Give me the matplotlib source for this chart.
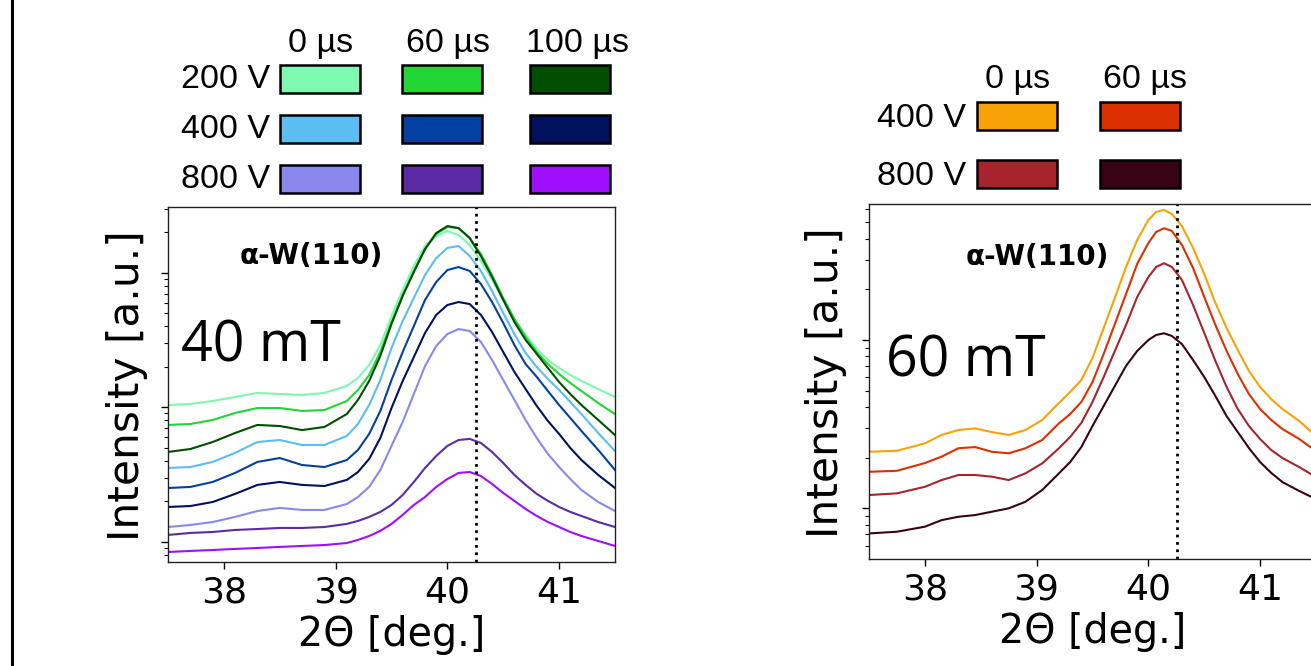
import numpy as np
import matplotlib
matplotlib.use('Agg')
import matplotlib.pyplot as plt
from matplotlib.patches import Rectangle
from matplotlib.lines import Line2D
from matplotlib.ticker import NullFormatter

# ---- data: 2-theta (deg) and log10 intensity ----
two_theta_40 = [37.5, 37.7, 37.9, 38.1, 38.3, 38.5, 38.7, 38.9, 39.1, 39.2, 39.3, 39.4, 39.5, 39.6,
                39.7, 39.8, 39.9, 40.0, 40.1, 40.2, 40.3, 40.4, 40.5, 40.6, 40.7, 40.8, 40.9, 41.0,
                41.1, 41.2, 41.35, 41.5]

v200_0 = [3.016, 3.024, 3.046, 3.076, 3.106, 3.098, 3.091, 3.106, 3.158, 3.217, 3.314, 3.462, 3.678,
          3.871, 4.050, 4.199, 4.273, 4.310, 4.280, 4.206, 4.087, 3.946, 3.797, 3.656, 3.537, 3.433,
          3.351, 3.291, 3.239, 3.195, 3.135, 3.076]
v200_60 = [2.868, 2.875, 2.905, 2.957, 2.994, 2.994, 2.972, 2.979, 3.046, 3.128, 3.239, 3.410, 3.633,
           3.834, 4.013, 4.176, 4.288, 4.340, 4.332, 4.258, 4.139, 3.983, 3.812, 3.656, 3.522, 3.410,
           3.321, 3.247, 3.180, 3.120, 3.031, 2.949]
v200_100 = [2.667, 2.689, 2.741, 2.808, 2.868, 2.860, 2.830, 2.853, 2.949, 3.054, 3.195, 3.381, 3.619,
            3.827, 4.005, 4.176, 4.295, 4.347, 4.332, 4.258, 4.124, 3.968, 3.797, 3.633, 3.500, 3.396,
            3.291, 3.187, 3.098, 3.016, 2.905, 2.793]
v400_0 = [2.548, 2.555, 2.593, 2.660, 2.741, 2.756, 2.719, 2.719, 2.786, 2.875, 3.016, 3.202, 3.440,
          3.641, 3.812, 3.983, 4.109, 4.184, 4.199, 4.124, 4.013, 3.864, 3.700, 3.544, 3.403, 3.299,
          3.210, 3.128, 3.039, 2.949, 2.808, 2.674]
v400_60 = [2.399, 2.407, 2.444, 2.511, 2.593, 2.622, 2.570, 2.555, 2.607, 2.682, 2.801, 2.972, 3.202,
           3.410, 3.604, 3.797, 3.931, 4.020, 4.042, 4.013, 3.916, 3.782, 3.626, 3.462, 3.321, 3.225,
           3.120, 3.016, 2.920, 2.823, 2.682, 2.533]
v400_100 = [2.258, 2.265, 2.295, 2.355, 2.422, 2.444, 2.422, 2.414, 2.459, 2.518, 2.615, 2.771, 2.994,
            3.195, 3.373, 3.552, 3.686, 3.760, 3.782, 3.767, 3.686, 3.559, 3.410, 3.262, 3.135, 3.009,
            2.897, 2.801, 2.697, 2.607, 2.496, 2.399]
v800_0 = [2.109, 2.124, 2.146, 2.184, 2.228, 2.251, 2.236, 2.236, 2.280, 2.332, 2.407, 2.533, 2.712,
          2.890, 3.098, 3.306, 3.455, 3.544, 3.581, 3.567, 3.485, 3.351, 3.202, 3.054, 2.905, 2.771,
          2.652, 2.555, 2.466, 2.384, 2.295, 2.228]
v800_60 = [2.050, 2.065, 2.072, 2.087, 2.094, 2.102, 2.102, 2.109, 2.132, 2.154, 2.184, 2.221, 2.273,
           2.347, 2.444, 2.548, 2.637, 2.712, 2.756, 2.764, 2.734, 2.667, 2.585, 2.496, 2.422, 2.355,
           2.303, 2.258, 2.221, 2.191, 2.146, 2.109]
v800_100 = [1.923, 1.931, 1.938, 1.946, 1.953, 1.961, 1.968, 1.975, 1.990, 2.013, 2.042, 2.080, 2.132,
            2.199, 2.273, 2.332, 2.407, 2.466, 2.511, 2.518, 2.488, 2.429, 2.362, 2.303, 2.243, 2.191,
            2.146, 2.109, 2.072, 2.042, 2.005, 1.968]

two_theta_60 = [37.5, 37.75, 38.0, 38.15, 38.3, 38.45, 38.6, 38.75, 38.9, 39.05, 39.2, 39.3, 39.4,
                39.5, 39.6, 39.7, 39.8, 39.9, 40.0, 40.07, 40.14, 40.21, 40.3, 40.4, 40.5, 40.6, 40.7,
                40.8, 40.9, 41.0, 41.1, 41.2, 41.35, 41.5]

m400_0 = [3.336, 3.342, 3.386, 3.436, 3.465, 3.475, 3.453, 3.436, 3.465, 3.525, 3.626, 3.691, 3.762,
          3.893, 4.071, 4.250, 4.434, 4.594, 4.713, 4.761, 4.773, 4.749, 4.677, 4.547, 4.392, 4.220,
          4.071, 3.941, 3.816, 3.721, 3.649, 3.590, 3.519, 3.430]
m400_60 = [3.217, 3.223, 3.269, 3.307, 3.357, 3.364, 3.336, 3.327, 3.357, 3.406, 3.505, 3.560, 3.632,
           3.750, 3.917, 4.095, 4.273, 4.452, 4.576, 4.642, 4.664, 4.648, 4.565, 4.428, 4.256, 4.089,
           3.935, 3.798, 3.679, 3.590, 3.525, 3.471, 3.412, 3.340]
m800_0 = [3.079, 3.089, 3.128, 3.168, 3.198, 3.198, 3.188, 3.168, 3.208, 3.267, 3.357, 3.424, 3.507,
          3.632, 3.780, 3.935, 4.089, 4.256, 4.374, 4.434, 4.456, 4.434, 4.357, 4.208, 4.042, 3.875,
          3.721, 3.590, 3.489, 3.412, 3.346, 3.299, 3.245, 3.186]
m800_60 = [2.851, 2.861, 2.891, 2.930, 2.950, 2.960, 2.980, 3.000, 3.039, 3.109, 3.208, 3.275, 3.364,
           3.489, 3.608, 3.727, 3.846, 3.935, 4.000, 4.030, 4.040, 4.024, 3.976, 3.881, 3.780, 3.667,
           3.548, 3.453, 3.358, 3.275, 3.210, 3.156, 3.103, 3.055]

w110_ref = 40.26

voltages_40 = ['200 V', '400 V', '800 V']
pulses_40 = ['0 µs', '60 µs', '100 µs']
colors_40 = [['#7ff8b0', '#22d633', '#004f00'],
             ['#5bbdf2', '#0340a0', '#00125e'],
             ['#8888ee', '#5b2ba6', '#a00eff']]
series_40 = [[v200_0, v200_60, v200_100],
             [v400_0, v400_60, v400_100],
             [v800_0, v800_60, v800_100]]

voltages_60 = ['400 V', '800 V']
pulses_60 = ['0 µs', '60 µs']
colors_60 = [['#f8a305', '#dd3000'],
             ['#a8242c', '#380415']]
series_60 = [[m400_0, m400_60],
             [m800_0, m800_60]]

W, H = 1311, 666


def fx(x):
    return x / W


def fy(y):
    return 1 - y / H


fig = plt.figure(figsize=(W / 100, H / 100), dpi=100)


def style_axes(ax, ylim):
    ax.set_yscale('log')
    ax.set_xlim(37.5, 41.5)
    ax.set_ylim(*ylim)
    ax.set_xticks([38, 39, 40, 41])
    ax.tick_params(axis='x', labelsize=26, length=5, width=1, pad=5)
    ax.tick_params(axis='y', which='both', labelleft=False)
    ax.tick_params(axis='y', which='major', length=5, width=1)
    ax.tick_params(axis='y', which='minor', length=3, width=0.8)
    ax.yaxis.set_minor_formatter(NullFormatter())
    for s in ax.spines.values():
        s.set_linewidth(1)
        s.set_color('#222222')
    ax.axvline(w110_ref, color='k', ls=':', lw=2)
    ax.set_xlabel('2Θ [deg.]', fontsize=28.5, labelpad=4)


# left panel, 40 mT
ax1 = fig.add_axes([fx(168), fy(561.7), 447 / W, 355 / H])
for r in range(3):
    for c in range(3):
        ax1.plot(two_theta_40, 10 ** np.array(series_40[r][c]), color=colors_40[r][c], lw=1.5)
style_axes(ax1, (10 ** 1.851, 10 ** 4.491))
ax1.text(0.32, 0.861, 'α-W(110)', transform=ax1.transAxes, fontsize=20, fontweight='bold',
         ha='center', va='center')
ax1.text(0.207, 0.563, '40 mT', transform=ax1.transAxes, fontsize=40, family='Open Sans',
         ha='center', va='baseline')
fig.text(fx(127), fy(386), 'Intensity [a.u.]', rotation=90, fontsize=30.5, ha='center', va='center')

# right panel, 60 mT (runs past the right edge, as in the source figure)
ax2 = fig.add_axes([fx(869), fy(559), 447 / W, 355 / H])
for r in range(2):
    for c in range(2):
        ax2.plot(two_theta_60, 10 ** np.array(series_60[r][c]), color=colors_60[r][c], lw=1.5)
style_axes(ax2, (10 ** 2.699, 10 ** 4.808))
ax2.text(0.376, 0.851, 'α-W(110)', transform=ax2.transAxes, fontsize=20, fontweight='bold',
         ha='center', va='center')
ax2.text(0.217, 0.5135, '60 mT', transform=ax2.transAxes, fontsize=40, family='Open Sans',
         ha='center', va='baseline')
fig.text(fx(826), fy(383), 'Intensity [a.u.]', rotation=90, fontsize=30.5, ha='center', va='center')


# colour-key tables above the panels
def key_table(col_x, row_y, head_x, head_base, lab_x, lab_base, pulses, volts, colors):
    for i, t in enumerate(pulses):
        fig.text(fx(head_x[i]), fy(head_base), t, fontsize=24.5, family='Liberation Sans',
                 ha='center', va='baseline')
    for r, v in enumerate(volts):
        fig.text(fx(lab_x), fy(lab_base[r]), v, fontsize=24.5, family='Liberation Sans',
                 ha='right', va='baseline')
        for c in range(len(pulses)):
            fig.add_artist(Rectangle((fx(col_x[c]), fy(row_y[r] + 28)), 80 / W, 28 / H,
                                     facecolor=colors[r][c], edgecolor='k', lw=1.8,
                                     transform=fig.transFigure))


key_table([280, 402, 530], [65, 115, 165], [321, 448, 578], 52, 270, [88, 138, 188],
          pulses_40, voltages_40, colors_40)
key_table([977, 1100], [102, 160], [1018, 1145], 88, 966, [127, 185],
          pulses_60, voltages_60, colors_60)

# frame line at the left edge of the composite
fig.add_artist(Line2D([fx(12), fx(12)], [0, 1], color='k', lw=2.2, transform=fig.transFigure))

fig.savefig('out.png', dpi=100)
